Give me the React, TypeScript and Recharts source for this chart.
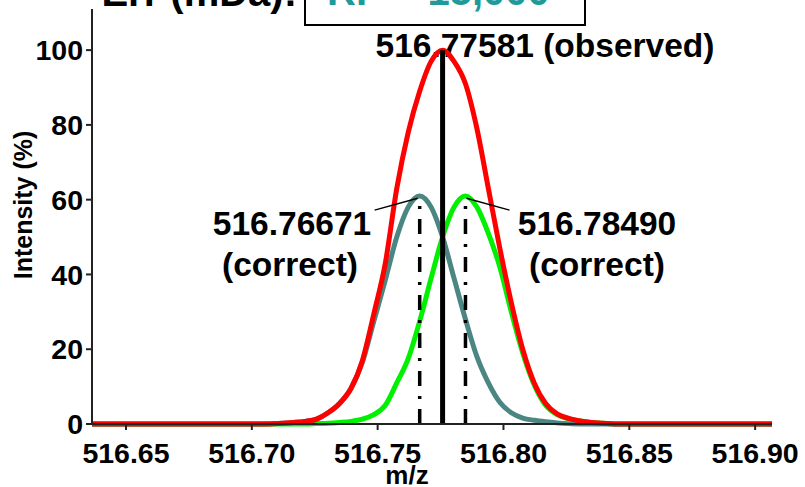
import React from 'react';
import { LineChart, Line, XAxis, YAxis, ReferenceLine } from 'recharts';

// m/z sampling grid (first and last points sit on the plot edges)
const mzValues = [
  516.6365, 516.69845, 516.703, 516.70755, 516.7121, 516.71665, 516.7212, 516.72575, 516.7303, 516.73485,
  516.7394, 516.74395, 516.7485, 516.75305, 516.7576, 516.76215, 516.7667, 516.77125, 516.7758, 516.78035,
  516.7849, 516.78945, 516.794, 516.79855, 516.8031, 516.80765, 516.8122, 516.81675, 516.8213, 516.82585,
  516.8304, 516.83495, 516.8395, 516.84405, 516.9067,
];

// observed envelope (red)
const observed = [
  0, 0, 0, 0, 0.2, 0.4, 0.7, 1.3, 3.0, 5.5,
  9.5, 17, 29.5, 43, 63, 78, 89, 97, 100, 97,
  91, 79, 63, 47, 32.5, 20, 11, 5.5, 2.7, 1.5,
  0.8, 0.4, 0.2, 0, 0,
];

// correct isotope 516.76671 (teal)
const correctLow = [
  0, 0, 0, 0.1, 0.2, 0.4, 0.7, 1.3, 3.0, 5.5,
  9.5, 16.5, 27.5, 38.5, 50, 58, 61, 58, 50, 39,
  28, 18, 11, 5.8, 3.0, 1.6, 1.0, 0.6, 0.3, 0.1,
  0, 0, 0, 0, 0,
];

// correct isotope 516.78490 (green)
const correctHigh = [
  0, 0, 0, 0, 0, 0, 0, 0.1, 0.2, 0.4,
  0.7, 1.3, 2.5, 5, 11, 17.5, 27.5, 39, 50, 58,
  61, 58, 51, 42, 30, 19, 10.5, 5, 2.5, 1.4,
  0.8, 0.4, 0.2, 0, 0,
];

const xTicks = [516.65, 516.7, 516.75, 516.8, 516.85, 516.9];
const yTicks = [0, 20, 40, 60, 80, 100];

const observedMz = 516.77581;
const lowMz = 516.76671;
const highMz = 516.7849;
const peakHeight = 61;

const data = mzValues.map((mz, i) => ({
  mz,
  observed: observed[i],
  low: correctLow[i],
  high: correctHigh[i],
}));

const FONT = '"Liberation Sans", Arial, sans-serif';
const AXIS = '#222';
const tickStyle = { fontSize: 28.5, fontWeight: 'bold', fill: '#000', fontFamily: FONT };

export default function App() {
  return (
    <div style={{ position: 'relative', width: 805, height: 487, overflow: 'hidden', background: '#fff', fontFamily: FONT }}>
      <style>{'body{margin:0}'}</style>

      {/* annotations sit behind the curves */}
      <svg width={805} height={487} style={{ position: 'absolute', left: 0, top: 0 }}>
        <g fontFamily={FONT} fontWeight="bold" fill="#000">
          <text x={545} y={57} fontSize={33.5} textAnchor="middle">516.77581 (observed)</text>
          <text x={292} y={235} fontSize={33.5} textAnchor="middle">516.76671</text>
          <text x={290} y={276} fontSize={33.5} textAnchor="middle">(correct)</text>
          <text x={597} y={235} fontSize={33.5} textAnchor="middle">516.78490</text>
          <text x={597} y={276} fontSize={33.5} textAnchor="middle">(correct)</text>
          <text x={407} y={484} fontSize={26} textAnchor="middle">m/z</text>
          <text x={0} y={0} fontSize={25} textAnchor="middle" transform="translate(32,205) rotate(-90)">Intensity (%)</text>
        </g>
      </svg>

      <div style={{ position: 'absolute', left: 0, top: 0 }}>
        <LineChart width={805} height={487} data={data} margin={{ top: 9, right: 33, left: 0, bottom: 0 }}>
          <XAxis
            dataKey="mz"
            type="number"
            domain={[516.6365, 516.9067]}
            ticks={xTicks}
            allowDataOverflow
            height={63}
            tickFormatter={(v: number) => v.toFixed(2)}
            tick={tickStyle}
            tickSize={6}
            tickMargin={13}
            stroke={AXIS}
            strokeWidth={2}
            interval={0}
          />
          <XAxis xAxisId="top" orientation="top" dataKey="mz" type="number" domain={[516.6365, 516.9067]} height={0} tick={false} tickLine={false} stroke={AXIS} strokeWidth={2} />
          <YAxis
            domain={[0, 111]}
            ticks={yTicks}
            width={92}
            tick={tickStyle}
            tickSize={6}
            tickMargin={3}
            stroke={AXIS}
            strokeWidth={2}
            interval={0}
          />
          <YAxis yAxisId="right" orientation="right" domain={[0, 111]} width={0} tick={false} tickLine={false} stroke={AXIS} strokeWidth={2} />

          <Line dataKey="high" type="monotone" stroke="#00f000" strokeWidth={5} dot={false} isAnimationActive={false} />
          <Line dataKey="low" type="monotone" stroke="#4b8682" strokeWidth={5} dot={false} isAnimationActive={false} />
          <Line dataKey="observed" type="monotone" stroke="#ff0000" strokeWidth={5} dot={false} isAnimationActive={false} />

          <ReferenceLine segment={[{ x: observedMz, y: 0 }, { x: observedMz, y: 100 }]} stroke="#000" strokeWidth={5} />
          <ReferenceLine segment={[{ x: lowMz, y: 0 }, { x: lowMz, y: peakHeight }]} stroke="#000" strokeWidth={3.5} strokeDasharray="15 10 3 10" />
          <ReferenceLine segment={[{ x: highMz, y: 0 }, { x: highMz, y: peakHeight }]} stroke="#000" strokeWidth={3.5} strokeDasharray="15 10 3 10" />
          <ReferenceLine segment={[{ x: 516.7488, y: 57.2 }, { x: 516.7659, y: 60.4 }]} stroke="#000" strokeWidth={1.5} />
          <ReferenceLine segment={[{ x: 516.7853, y: 60.4 }, { x: 516.8024, y: 57.2 }]} stroke="#000" strokeWidth={1.5} />
        </LineChart>
      </div>

      {/* clipped title and boxed resolving power, drawn over the frame */}
      <svg width={805} height={487} style={{ position: 'absolute', left: 0, top: 0, pointerEvents: 'none' }}>
        <text x={297} y={6} fontSize={40} fontWeight="bold" fontFamily={FONT} textAnchor="end" fill="#000">Err (mDa):</text>
        <rect x={305} y={-5} width={280} height={30} fill="#fff" stroke="#000" strokeWidth={2} />
        <text x={327} y={5} fontSize={40} fontWeight="bold" fontFamily={FONT} fill="#1f9a9a">RP = 15,000</text>
      </svg>
    </div>
  );
}
